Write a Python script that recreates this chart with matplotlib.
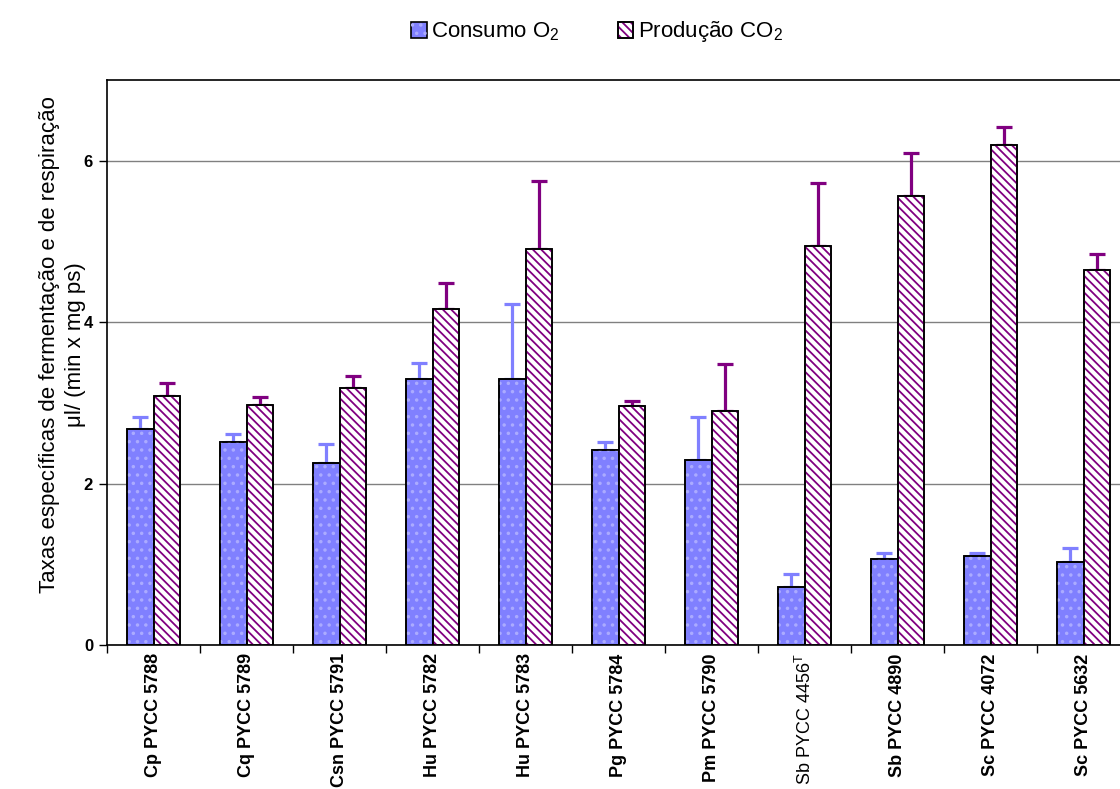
import matplotlib
matplotlib.use("Agg")
import matplotlib.pyplot as plt
import numpy as np
from matplotlib.patches import Patch
from matplotlib.legend_handler import HandlerTuple

plt.rcParams['font.family'] = ['Liberation Sans', 'DejaVu Sans']
plt.rcParams['mathtext.fontset'] = 'custom'
plt.rcParams['mathtext.rm'] = 'Liberation Sans'
plt.rcParams['mathtext.it'] = 'Liberation Sans:italic'
plt.rcParams['mathtext.bf'] = 'Liberation Sans:bold'
plt.rcParams['hatch.linewidth'] = 1.3

# Strains
strains = ["Cp PYCC 5788", "Cq PYCC 5789", "Csn PYCC 5791", "Hu PYCC 5782",
           "Hu PYCC 5783", "Pg PYCC 5784", "Pm PYCC 5790",
           r"Sb PYCC 4456$^{\mathrm{T}}$", "Sb PYCC 4890", "Sc PYCC 4072",
           "Sc PYCC 5632"]

# Specific O2 consumption rates and standard deviation
o2_mean = [2.68, 2.51, 2.25, 3.30, 3.30, 2.42, 2.29, 0.72, 1.06, 1.10, 1.03]
o2_sd = [0.15, 0.10, 0.24, 0.20, 0.93, 0.09, 0.54, 0.16, 0.08, 0.04, 0.17]

# Specific CO2 production rates and standard deviation
co2_mean = [3.08, 2.97, 3.18, 4.16, 4.91, 2.96, 2.90, 4.94, 5.56, 6.19, 4.64]
co2_sd = [0.16, 0.10, 0.15, 0.33, 0.84, 0.06, 0.58, 0.79, 0.54, 0.23, 0.21]

yticks = [0, 2, 4, 6]

blue = "#8080FF"
purple = "#800080"
stripes = "\\\\\\\\"

fig = plt.figure(figsize=(11.2, 7.89), dpi=100)
ax = fig.add_axes([107 / 1120, (789 - 645) / 789, 1023 / 1120, 565 / 789])

x = np.arange(len(strains))
w = 0.285
zeros = np.zeros(len(strains))

# O2 bars: blue fill with light dot pattern
ax.bar(x - w / 2, o2_mean, w, color=blue, edgecolor="black", linewidth=1.2, zorder=3)
ax.bar(x - w / 2, o2_mean, w, facecolor="none", edgecolor="#ABABFF", hatch="..",
       linewidth=0, zorder=3)
ax.bar(x - w / 2, o2_mean, w, facecolor="none", edgecolor="black", linewidth=1.2, zorder=3)

# CO2 bars: white with purple diagonal stripes
ax.bar(x + w / 2, co2_mean, w, color="white", edgecolor="black", linewidth=1.2, zorder=3)
ax.bar(x + w / 2, co2_mean, w, facecolor="none", edgecolor=purple, hatch=stripes,
       linewidth=0, zorder=3)
ax.bar(x + w / 2, co2_mean, w, facecolor="none", edgecolor="black", linewidth=1.2, zorder=3)

# Upper error bars only
ax.errorbar(x - w / 2, o2_mean, yerr=[zeros, o2_sd], fmt="none", ecolor=blue,
            elinewidth=2.3, capsize=5.5, capthick=2.3, zorder=2)
ax.errorbar(x + w / 2, co2_mean, yerr=[zeros, co2_sd], fmt="none", ecolor=purple,
            elinewidth=2.3, capsize=5.5, capthick=2.3, zorder=2)

ax.set_xlim(-0.5, len(strains) - 0.5)
ax.set_ylim(0, 7)

ax.set_yticks(yticks)
ax.set_yticklabels([str(t) for t in yticks], fontsize=12, fontweight="bold")
ax.yaxis.grid(True, color="#808080", linewidth=1.0, zorder=0)
ax.set_axisbelow(True)
ax.tick_params(axis="y", direction="out", length=6, width=1, pad=4)

ax.set_xticks(x)
ax.set_xticklabels(strains, rotation=90, fontsize=13, fontweight="bold", va="top")
ax.set_xticks(np.arange(-0.5, len(strains)), minor=True)
ax.tick_params(axis="x", which="major", length=0, pad=6)
ax.tick_params(axis="x", which="minor", direction="out", length=6, width=1)
for i, lbl in enumerate(ax.get_xticklabels()):
    if "4456" in strains[i]:
        lbl.set_fontweight("normal")
        lbl.set_fontsize(13)

for sp in ax.spines.values():
    sp.set_color("black")
    sp.set_linewidth(1.2)

ax.set_ylabel("Taxas específicas de fermentação e de respiração\nμl/ (min x mg ps)",
              fontsize=16, linespacing=1.3)
ax.yaxis.set_label_coords(-0.021, 0.531)

# Legend
h_o2 = (Patch(facecolor=blue, edgecolor="black", linewidth=1.2),
        Patch(facecolor="none", edgecolor="#ABABFF", hatch="..", linewidth=0))
h_co2 = (Patch(facecolor="white", edgecolor="black", linewidth=1.2),
         Patch(facecolor="none", edgecolor=purple, hatch=stripes, linewidth=0),
         Patch(facecolor="none", edgecolor="black", linewidth=1.2))
fig.legend([h_o2, h_co2], [r"Consumo O$_2$", r"Produção CO$_2$"],
           handler_map={tuple: HandlerTuple(ndivide=1)},
           loc="center", bbox_to_anchor=(597 / 1120, 1 - 32 / 789), ncol=2,
           frameon=False, fontsize=16, handlelength=0.7, handleheight=0.7,
           handletextpad=0.2, columnspacing=2.6)

fig.savefig("out.png", dpi=100)
